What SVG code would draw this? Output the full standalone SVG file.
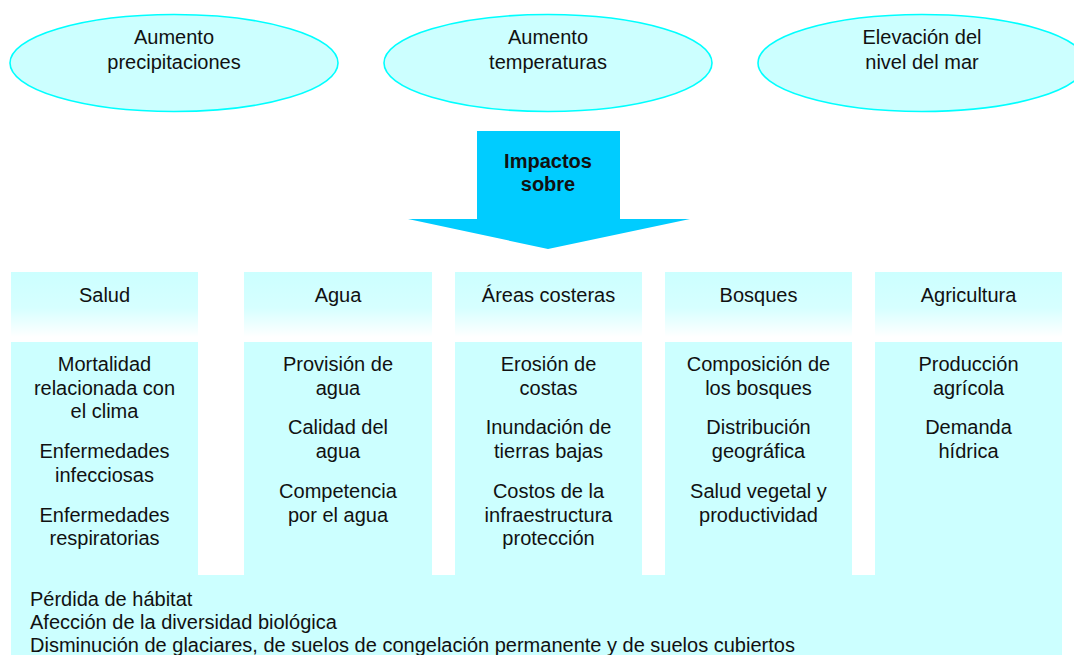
<svg xmlns="http://www.w3.org/2000/svg" width="1074" height="655" viewBox="0 0 1074 655">
<defs>
<linearGradient id="hdr" x1="0" y1="0" x2="0" y2="1">
<stop offset="0" stop-color="#CCFFFF"/>
<stop offset="0.55" stop-color="#D6FFFF"/>
<stop offset="1" stop-color="#FFFFFF"/>
</linearGradient>
</defs>
<style>
text{font-family:"Liberation Sans",Arial,sans-serif;font-size:20px;fill:#111;}
.c{text-anchor:middle;}
.ell{fill:#CCFFFF;stroke:#00FFFF;stroke-width:1.6;}
.hdr{fill:url(#hdr);}
.box{fill:#CCFFFF;}
.b{font-weight:bold;}
</style>
<rect width="1074" height="655" fill="#FFFFFF"/>

<g id="cause-precipitaciones">
<ellipse class="ell" cx="174" cy="63" rx="164" ry="48.5"/>
<text class="c" x="174" y="44">Aumento</text>
<text class="c" x="174" y="69">precipitaciones</text>
</g>
<g id="cause-temperaturas">
<ellipse class="ell" cx="548" cy="63" rx="164" ry="48.5"/>
<text class="c" x="548" y="44">Aumento</text>
<text class="c" x="548" y="69">temperaturas</text>
</g>
<g id="cause-nivel-mar">
<ellipse class="ell" cx="922" cy="63" rx="164" ry="48.5"/>
<text class="c" x="922" y="44">Elevación del</text>
<text class="c" x="922" y="69">nivel del mar</text>
</g>

<g id="connectors">
<polygon points="477,131 620,131 620,219 690,219 548,249 408,219 477,219" fill="#00CCFF"/>
<text class="c b" x="548" y="168">Impactos</text>
<text class="c b" x="548" y="191">sobre</text>
</g>

<g id="bottom-box">
<rect class="box" x="11" y="575" width="1051" height="80"/>
<text x="30" y="606">Pérdida de hábitat</text>
<text x="30" y="629">Afección de la diversidad biológica</text>
<text x="30" y="652">Disminución de glaciares, de suelos de congelación permanente y de suelos cubiertos</text>
</g>

<g id="salud">
<rect class="hdr" x="11" y="272" width="187" height="65"/>
<text class="c" x="104.5" y="302">Salud</text>
<rect class="box" x="11" y="342" width="187" height="235"/>
<text class="c" x="104.5" y="371">Mortalidad</text>
<text class="c" x="104.5" y="395">relacionada con</text>
<text class="c" x="104.5" y="418">el clima</text>
<text class="c" x="104.5" y="458">Enfermedades</text>
<text class="c" x="104.5" y="482">infecciosas</text>
<text class="c" x="104.5" y="522">Enfermedades</text>
<text class="c" x="104.5" y="545">respiratorias</text>
</g>

<g id="agua">
<rect class="hdr" x="244" y="272" width="188" height="65"/>
<text class="c" x="338" y="302">Agua</text>
<rect class="box" x="244" y="342" width="188" height="235"/>
<text class="c" x="338" y="371">Provisión de</text>
<text class="c" x="338" y="395">agua</text>
<text class="c" x="338" y="434">Calidad del</text>
<text class="c" x="338" y="458">agua</text>
<text class="c" x="338" y="498">Competencia</text>
<text class="c" x="338" y="522">por el agua</text>
</g>

<g id="areas-costeras">
<rect class="hdr" x="455" y="272" width="187" height="65"/>
<text class="c" x="548.5" y="302">Áreas costeras</text>
<rect class="box" x="455" y="342" width="187" height="235"/>
<text class="c" x="548.5" y="371">Erosión de</text>
<text class="c" x="548.5" y="395">costas</text>
<text class="c" x="548.5" y="434">Inundación de</text>
<text class="c" x="548.5" y="458">tierras bajas</text>
<text class="c" x="548.5" y="498">Costos de la</text>
<text class="c" x="548.5" y="522">infraestructura</text>
<text class="c" x="548.5" y="545">protección</text>
</g>

<g id="bosques">
<rect class="hdr" x="665" y="272" width="187" height="65"/>
<text class="c" x="758.5" y="302">Bosques</text>
<rect class="box" x="665" y="342" width="187" height="235"/>
<text class="c" x="758.5" y="371">Composición de</text>
<text class="c" x="758.5" y="395">los bosques</text>
<text class="c" x="758.5" y="434">Distribución</text>
<text class="c" x="758.5" y="458">geográfica</text>
<text class="c" x="758.5" y="498">Salud vegetal y</text>
<text class="c" x="758.5" y="522">productividad</text>
</g>

<g id="agricultura">
<rect class="hdr" x="875" y="272" width="187" height="65"/>
<text class="c" x="968.5" y="302">Agricultura</text>
<rect class="box" x="875" y="342" width="187" height="235"/>
<text class="c" x="968.5" y="371">Producción</text>
<text class="c" x="968.5" y="395">agrícola</text>
<text class="c" x="968.5" y="434">Demanda</text>
<text class="c" x="968.5" y="458">hídrica</text>
</g>
</svg>
